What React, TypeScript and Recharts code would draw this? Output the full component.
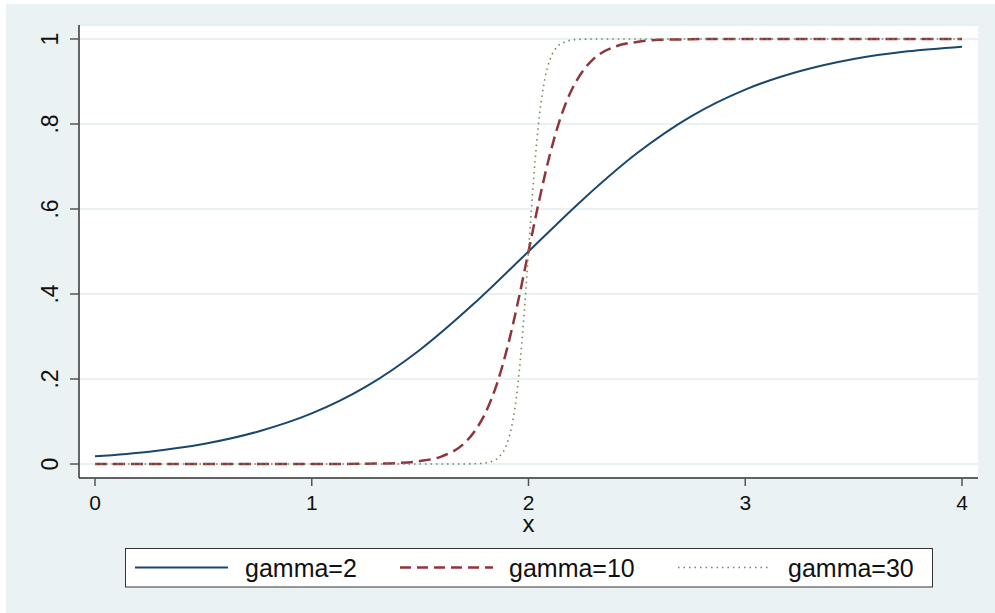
import React from "react";
import { LineChart, Line, XAxis, YAxis, CartesianGrid, Legend } from "recharts";

// gamma = 2
const g2X = [0, 0.25, 0.5, 0.75, 1, 1.25, 1.5, 1.75, 2, 2.25, 2.5, 2.75, 3, 3.25, 3.5, 3.75, 4];
const g2Y = [0.018, 0.029, 0.047, 0.076, 0.119, 0.182, 0.269, 0.378, 0.5, 0.622, 0.731, 0.818, 0.881, 0.924, 0.953, 0.971, 0.982];

// gamma = 10
const g10X = [0, 0.5, 1, 1.3, 1.4, 1.5, 1.6, 1.7, 1.75, 1.8, 1.85, 1.9, 1.95, 2, 2.05, 2.1, 2.15, 2.2, 2.25, 2.3, 2.4, 2.5, 2.6, 2.7, 2.8, 3, 3.5, 4];
const g10Y = [0, 0, 0, 0.001, 0.0025, 0.007, 0.018, 0.047, 0.076, 0.119, 0.182, 0.269, 0.378, 0.5, 0.622, 0.731, 0.818, 0.881, 0.924, 0.953, 0.982, 0.993, 0.998, 0.999, 1, 1, 1, 1];

// gamma = 30
const g30X = [0, 1, 1.7, 1.75, 1.8, 1.833, 1.867, 1.9, 1.925, 1.95, 1.975, 2, 2.025, 2.05, 2.075, 2.1, 2.133, 2.167, 2.2, 2.25, 2.3, 3, 4];
const g30Y = [0, 0, 0.0001, 0.0006, 0.0025, 0.0067, 0.018, 0.047, 0.095, 0.182, 0.321, 0.5, 0.679, 0.818, 0.905, 0.953, 0.982, 0.993, 0.9975, 0.9994, 0.9999, 1, 1];

const xTicks = [0, 1, 2, 3, 4];
const xTickLabels = ["0", "1", "2", "3", "4"];
const yTicks = [0, 0.2, 0.4, 0.6, 0.8, 1];
const yTickLabels = ["0", ".2", ".4", ".6", ".8", "1"];

const seriesNames = ["gamma=2", "gamma=10", "gamma=30"];

const toData = (xs: number[], ys: number[]) => xs.map((x, i) => ({ x, y: ys[i] }));
const data2 = toData(g2X, g2Y);
const data10 = toData(g10X, g10Y);
const data30 = toData(g30X, g30Y);

const FONT = "'Liberation Sans', Arial, Helvetica, sans-serif";
const BLUE = "#1a476f";
const RED = "#90353b";
const GREEN = "#6f8a55";
const AXIS = "#333333";

const XTick = (props: any) => {
  const { x, y, payload } = props;
  const idx = xTicks.indexOf(payload.value);
  return (
    <text x={x} y={y + 22} textAnchor="middle" fontFamily={FONT} fontSize={21} fill="#111">
      {idx >= 0 ? xTickLabels[idx] : payload.value}
    </text>
  );
};

const YTick = (props: any) => {
  const { x, y, payload } = props;
  const idx = yTicks.findIndex((t) => Math.abs(t - payload.value) < 1e-9);
  const bx = x - 10;
  return (
    <text
      x={bx}
      y={y}
      transform={`rotate(-90, ${bx}, ${y})`}
      textAnchor="middle"
      fontFamily={FONT}
      fontSize={23}
      fill="#111"
    >
      {idx >= 0 ? yTickLabels[idx] : payload.value}
    </text>
  );
};

const XTitle = (props: any) => {
  const vb = props.viewBox || {};
  return (
    <text x={vb.x + vb.width / 2} y={vb.y + 54} textAnchor="middle" fontFamily={FONT} fontSize={24} fill="#111">
      x
    </text>
  );
};

const LegendContent = () => {
  const items = [
    { name: seriesNames[0], color: BLUE, dash: undefined as string | undefined, w: 2, lx: 10, tx: 120 },
    { name: seriesNames[1], color: RED, dash: "11 6", w: 2.5, lx: 275, tx: 384 },
    { name: seriesNames[2], color: GREEN, dash: "1.5 4", w: 1.6, lx: 553, tx: 663 },
  ];
  return (
    <svg width={809} height={40} style={{ display: "block" }}>
      <rect x={0.5} y={0.5} width={807} height={38.5} fill="#ffffff" stroke="#333" strokeWidth={1} />
      {items.map((it) => (
        <g key={it.name}>
          <line x1={it.lx} x2={it.lx + 93} y1={19.5} y2={19.5} stroke={it.color} strokeWidth={it.w} strokeDasharray={it.dash} />
          <text x={it.tx} y={29} fontFamily={FONT} fontSize={25} fill="#111">
            {it.name}
          </text>
        </g>
      ))}
    </svg>
  );
};

export default function App() {
  return (
    <div style={{ position: "absolute", left: 0, top: 0, width: 995, height: 613, background: "#ffffff", overflow: "hidden" }}>
      <div style={{ position: "absolute", left: 6, top: 4, right: 0, bottom: 0, background: "#eaf2f3" }} />
      <div style={{ position: "absolute", left: 0, top: 0 }}>
        <LineChart width={995} height={613} margin={{ top: 25, right: 17, left: 0, bottom: 0 }}>
          <CartesianGrid vertical={false} horizontal={true} fill="#ffffff" stroke="#e3ecee" strokeWidth={1.5} />
          <XAxis
            type="number"
            dataKey="x"
            domain={[-0.0738, 4.0738]}
            ticks={xTicks}
            allowDataOverflow
            height={135}
            tickSize={8}
            axisLine={{ stroke: AXIS, strokeWidth: 1.5 }}
            tickLine={{ stroke: "#555", strokeWidth: 1.5 }}
            tick={<XTick />}
            label={<XTitle />}
            interval={0}
          />
          <YAxis
            type="number"
            dataKey="y"
            domain={[-0.0329, 1.0329]}
            ticks={yTicks}
            allowDataOverflow
            width={79}
            tickSize={9}
            axisLine={{ stroke: AXIS, strokeWidth: 1.5 }}
            tickLine={{ stroke: "#555", strokeWidth: 1.5 }}
            tick={<YTick />}
            interval={0}
          />
          <Line data={data2} dataKey="y" name={seriesNames[0]} type="monotone" stroke={BLUE} strokeWidth={2} dot={false} isAnimationActive={false} />
          <Line data={data10} dataKey="y" name={seriesNames[1]} type="monotone" stroke={RED} strokeWidth={2.5} strokeDasharray="12 6" dot={false} isAnimationActive={false} />
          <Line data={data30} dataKey="y" name={seriesNames[2]} type="monotone" stroke={GREEN} strokeWidth={1.6} strokeDasharray="1.5 4" dot={false} isAnimationActive={false} />
          <Legend
            layout="horizontal"
            verticalAlign="middle"
            align="center"
            content={<LegendContent />}
            wrapperStyle={{ position: "absolute", left: 125, top: 548, width: 809, height: 40, margin: 0, padding: 0 }}
          />
        </LineChart>
      </div>
    </div>
  );
}
